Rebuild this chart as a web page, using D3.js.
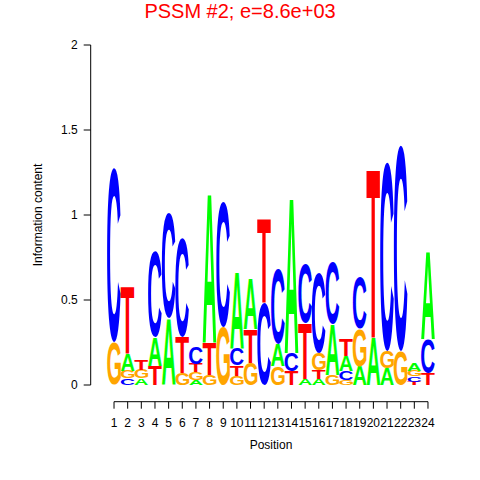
<!DOCTYPE html>
<html><head><meta charset="utf-8">
<script src="https://cdn.jsdelivr.net/npm/d3@7"></script>
<style>body{margin:0;background:#fff}svg{display:block}text{font-family:"Liberation Sans",Arial,sans-serif}</style>
</head><body>
<svg id="c" width="480" height="480"></svg>
<script>
const positions = d3.range(1, 25);
const bases = ["A", "C", "G", "T"];
const baseColors = ["#00FF00", "#0000FF", "#FFA500", "#FF0000"];
// information content (bits) per base, positions 1..24
const A = [0.00,0.095,0.04,0.17,0.39,0.00,0.03,0.88,0.00,0.45,0.30,0.00,0.13,0.92,0.035,0.035,0.30,0.09,0.11,0.28,0.10,0.00,0.045,0.52];
const C = [1.02,0.04,0.00,0.50,0.62,0.58,0.10,0.00,0.74,0.10,0.00,0.48,0.44,0.11,0.35,0.47,0.36,0.05,0.30,0.00,1.11,1.21,0.03,0.20];
const G = [0.25,0.045,0.05,0.00,0.00,0.07,0.045,0.06,0.34,0.055,0.13,0.00,0.11,0.00,0.00,0.10,0.06,0.03,0.22,0.00,0.10,0.20,0.035,0.00];
const T = [0.00,0.40,0.06,0.11,0.00,0.21,0.05,0.19,0.00,0.06,0.20,0.50,0.00,0.08,0.33,0.05,0.00,0.10,0.00,0.99,0.00,0.00,0.02,0.07];
const yTicks = [0, 0.5, 1, 1.5, 2];
const yTickLabels = ["0", "0.5", "1", "1.5", "2"];
const title = "PSSM #2; e=8.6e+03";

const svg = d3.select("#c");
const x = d3.scaleLinear().domain([0.5, 24.5]).range([107.2, 434.8]);
const y = d3.scaleLinear().domain([0, 2]).range([385, 45]);

// tight glyph metrics
const cv = document.createElement("canvas").getContext("2d");
cv.font = 'bold 100px "Liberation Sans"';
const metrics = {};
bases.forEach(b => {
  const m = cv.measureText(b);
  metrics[b] = {l: m.actualBoundingBoxLeft, r: m.actualBoundingBoxRight, a: m.actualBoundingBoxAscent, d: m.actualBoundingBoxDescent};
});

const series = [A, C, G, T];
const g = svg.append("g");
positions.forEach((p, i) => {
  const col = bases.map((b, k) => ({b, k, v: series[k][i]})).filter(d => d.v > 0);
  col.sort((a, b) => a.v - b.v);
  let cum = 0;
  col.forEach(d => {
    const y0 = y(cum + d.v), y1 = y(cum);
    cum += d.v;
    const m = metrics[d.b];
    const x0 = x(p - 0.5), x1 = x(p + 0.5);
    const sx = (x1 - x0) / (m.l + m.r), sy = (y1 - y0) / (m.a + m.d);
    g.append("text")
      .attr("transform", `translate(${x0},${y0}) scale(${sx},${sy}) translate(${m.l},${m.a})`)
      .attr("font-size", 100).attr("font-weight", "bold")
      .attr("fill", baseColors[d.k]).text(d.b);
  });
});

// y axis
const ya = svg.append("g").attr("transform", "translate(90.7,0)");
ya.append("line").attr("x1", 0).attr("x2", 0).attr("y1", y(2)).attr("y2", y(0)).attr("stroke", "#000");
yTicks.forEach((t, i) => {
  ya.append("line").attr("x1", -7).attr("x2", 0).attr("y1", y(t)).attr("y2", y(t)).attr("stroke", "#000");
  ya.append("text").attr("x", -13).attr("y", y(t) + 4.3).attr("text-anchor", "end").attr("font-size", 12).text(yTickLabels[i]);
});
svg.append("text").attr("transform", `translate(42,${y(1)}) rotate(-90)`).attr("text-anchor", "middle").attr("font-size", 12).text("Information content");

// x axis
const xa = svg.append("g").attr("transform", "translate(0,401.7)");
xa.append("line").attr("x1", x(1)).attr("x2", x(24)).attr("y1", 0).attr("y2", 0).attr("stroke", "#000");
positions.forEach(p => {
  xa.append("line").attr("x1", x(p)).attr("x2", x(p)).attr("y1", 0).attr("y2", 7).attr("stroke", "#000");
  xa.append("text").attr("x", x(p)).attr("y", 25.5).attr("text-anchor", "middle").attr("font-size", 12).text(p);
});
svg.append("text").attr("x", x(12.5)).attr("y", 449).attr("text-anchor", "middle").attr("font-size", 12).text("Position");

svg.append("text").attr("x", 240).attr("y", 17.5).attr("text-anchor", "middle").attr("font-size", 20).attr("fill", "#FF0000").text(title);
</script>
</body></html>
